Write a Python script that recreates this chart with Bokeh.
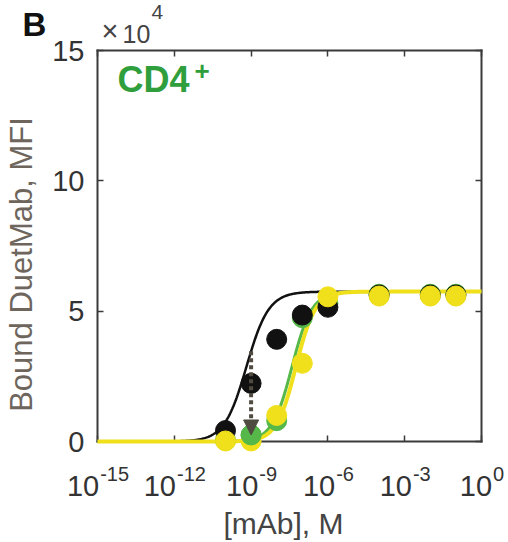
import numpy as np
from bokeh.plotting import figure
from bokeh.models import (FixedTicker, LogAxis, LinearAxis, Label, Arrow, NormalHead,
                          CustomJSTickFormatter)
from bokeh.embed import file_html
from bokeh.resources import INLINE

# Antibody concentration, M
conc = [1e-10, 1e-9, 1e-8, 1e-7, 1e-6, 1e-4, 1e-2, 1e-1]
# Bound DuetMab, MFI (x 10^4)
black_mfi = [0.42, 2.23, 3.92, 4.85, 5.15, 5.62, 5.62, 5.62]
green_mfi = [0.05, 0.25, 0.80, 4.75, 5.30, 5.65, 5.65, 5.65]
yellow_mfi = [0.02, 0.02, 1.00, 3.00, 5.55, 5.58, 5.58, 5.58]

# Hill fits (black, green, yellow): plateau (x 10^4 MFI), log10 EC50, Hill slope
fit_top = [5.75, 5.75, 5.75]
fit_log_ec50 = [-9.18, -7.40, -7.25]
fit_hill = [1.0, 1.12, 1.15]

x_tick_exponents = [-15, -12, -9, -6, -3, 0]
y_ticks = [0, 5, 10, 15]
y_tick_labels = ["0", "5", "10", "15"]

BLACK = "#111111"
GREEN = "#55b848"
YELLOW = "#f0e01c"
AXIS = "#3a3a3a"
TEXT = "#333333"
FONT = "Liberation Sans"

# axes box (data limits) and its place on the 508 x 542 canvas
X_LO, X_HI, Y_LO, Y_HI = -15.0, 0.0, 0.0, 15.0
BOX_L, BOX_R, BOX_T, BOX_B = 97, 481, 50, 441
W, H = 508, 542
px_per_dec = (BOX_R - BOX_L) / (X_HI - X_LO)
px_per_unit = (BOX_B - BOX_T) / (Y_HI - Y_LO)
x_range = (10 ** (X_LO - BOX_L / px_per_dec), 10 ** (X_HI + (W - BOX_R) / px_per_dec))
y_range = (Y_LO - (H - BOX_B) / px_per_unit, Y_HI + BOX_T / px_per_unit)

# labels are anchored a bit above their baseline; lift them by this fraction of the size
BASE_LIFT = 0.4


def hill(x, top, log_ec50, n):
    return top / (1.0 + 10.0 ** ((log_ec50 - np.log10(x)) * n))


p = figure(width=W, height=H, x_axis_type="log", x_range=x_range, y_range=y_range,
           output_backend="svg", toolbar_location=None, min_border=0)
p.grid.visible = False
p.outline_line_color = None
p.title.visible = False

x_ticks = [10.0 ** e for e in x_tick_exponents]
blank = CustomJSTickFormatter(code="return ''")


def style_axis(ax, location, bounds):
    ax.fixed_location = location
    ax.bounds = bounds
    ax.level = "underlay"
    ax.axis_line_color = AXIS
    ax.axis_line_width = 2
    ax.axis_line_cap = "square"
    ax.major_tick_in = 6
    ax.major_tick_out = 0
    ax.minor_tick_in = 0
    ax.minor_tick_out = 0
    ax.major_tick_line_color = AXIS
    ax.major_tick_line_width = 1.5


xb = (10.0 ** X_LO, 10.0 ** X_HI)
yb = (Y_LO, Y_HI)

p.xaxis.ticker = FixedTicker(ticks=x_ticks)
p.xaxis.formatter = blank
style_axis(p.xaxis[0], Y_LO, xb)

p.yaxis.ticker = FixedTicker(ticks=y_ticks)
p.yaxis.major_label_overrides = {t: s for t, s in zip(y_ticks, y_tick_labels)}
p.yaxis.major_label_text_font = FONT
p.yaxis.major_label_text_font_size = "29px"
p.yaxis.major_label_text_color = TEXT
p.yaxis.major_label_standoff = 13
style_axis(p.yaxis[0], 10.0 ** X_LO, yb)

top_axis = LogAxis(ticker=FixedTicker(ticks=x_ticks), formatter=blank)
style_axis(top_axis, Y_HI, xb)
p.add_layout(top_axis, "above")

right_axis = LinearAxis(ticker=FixedTicker(ticks=y_ticks), formatter=blank)
style_axis(right_axis, 10.0 ** X_HI, yb)
p.add_layout(right_axis, "right")

# fitted binding curves
xs = np.logspace(X_LO, X_HI, 500)
line_colors = [BLACK, GREEN, YELLOW]
line_widths = [2.5, 3, 4]
for col, lw, top, ec, n in zip(line_colors, line_widths, fit_top, fit_log_ec50, fit_hill):
    p.line(xs, hill(xs, top, ec, n), line_color=col, line_width=lw)

# measured points
p.scatter(conc, green_mfi, size=20, fill_color=GREEN, line_color=GREEN)
p.scatter(conc, black_mfi, size=20, fill_color=BLACK, line_color=BLACK)
p.scatter(conc, yellow_mfi, size=20, fill_color=YELLOW, line_color=YELLOW)
# the green 1 nM point sits above the yellow one
p.scatter(conc[1:2], green_mfi[1:2], size=20, fill_color=GREEN, line_color=GREEN)

# shift arrow at 1 nM: from the black fit down to the green point
arrow_x = conc[1]
arrow_col = "#4f4b40"
arrow_top = float(hill(arrow_x, fit_top[0], fit_log_ec50[0], fit_hill[0]))
p.add_layout(Arrow(end=NormalHead(size=15, fill_color=arrow_col, line_color=arrow_col),
                   x_start=arrow_x, y_start=arrow_top, x_end=arrow_x, y_end=green_mfi[1],
                   line_color=arrow_col, line_width=4, line_dash="4 3"))


def add_text(text, x, y, dx, dy, size, color, align="left", bold=False, angle=0.0):
    lift = BASE_LIFT * size
    if angle:
        dx -= lift
    else:
        dy += lift
    p.add_layout(Label(x=x, y=y, text=text, x_offset=dx, y_offset=dy, angle=angle,
                       text_align=align, text_baseline="alphabetic", text_font=FONT,
                       text_font_size=f"{size}px", text_color=color,
                       text_font_style="bold" if bold else "normal"))


def text_width(s, size):
    return sum(0.556 if c.isdigit() else 0.333 for c in s) * size


# x tick labels: 10 with a raised exponent
base_size, sup_size = 29, 20
for e in x_tick_exponents:
    sup = str(e)
    bw = text_width("10", base_size)
    sw = text_width(sup, sup_size)
    right_edge = -(bw + sw) / 2 + bw
    add_text("10", 10.0 ** e, Y_LO, right_edge, -56, base_size, TEXT, align="right")
    add_text(sup, 10.0 ** e, Y_LO, right_edge + 1, -40, sup_size, TEXT)

# axis titles
add_text("[mAb], M", 10.0 ** ((X_LO + X_HI) / 2), Y_LO, -6, -94, 30, "#444444", align="center")
add_text("Bound DuetMab, MFI", 10.0 ** X_LO, Y_LO, -64, 177, 31, "#6e665d",
         align="center", angle=np.pi / 2)

# y scale multiplier
add_text("\u00d7", 10.0 ** X_LO, Y_HI, 4, 8, 29, "#444444")
add_text("10", 10.0 ** X_LO, Y_HI, 25, 7, 25, "#444444")
add_text("4", 10.0 ** X_LO, Y_HI, 54, 30, 21, "#444444")

# panel letter and cell type
add_text("B", 10.0 ** X_LO, Y_HI, -75, 13, 33, "#111111", bold=True)
add_text("CD4", 10.0 ** X_LO, Y_HI, 20, -43, 36, "#2f9e3c", bold=True)
add_text("+", 10.0 ** X_LO, Y_HI, 97, -31, 26, "#2f9e3c", bold=True)

open("out.html", "w").write(file_html(p, INLINE))
